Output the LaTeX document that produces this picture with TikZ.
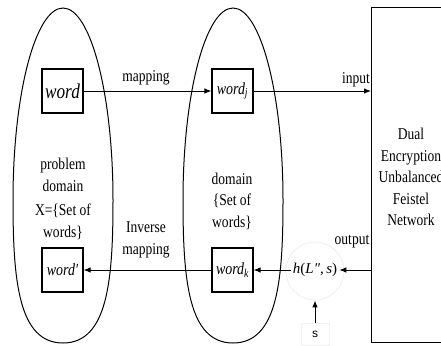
\documentclass[tikz,border=0pt]{standalone}
\usepackage{fontspec}
\setmainfont{Liberation Serif}[FakeStretch=0.82]
\newfontfamily\plainserif{Liberation Serif}
\setsansfont{Liberation Sans}
\usetikzlibrary{arrows.meta}

\begin{document}
\begin{tikzpicture}[x=1pt,y=-1pt,
  wordbox/.style={draw,line width=1.1pt,minimum width=41pt,minimum height=44pt,inner sep=0pt,
    font=\fontsize{17}{20}\selectfont\itshape},
  arr/.style={line width=1pt,-{Latex[length=7pt,width=5.5pt]}},
  lbl/.style={font=\fontsize{16.5}{19}\selectfont,inner sep=0pt},
  body/.style={font=\fontsize{16.5}{21.5}\selectfont,align=center,inner sep=0pt},
  domainline/.style={line width=1pt}]
\useasboundingbox (0,0) rectangle (441,345);
\clip (0,0) rectangle (441,345);

% the two egg-shaped domains
\foreach \dx in {0,170} {
  \draw[domainline,shift={(\dx,0)}]
    (63,8) .. controls (90.5,8) and (113,94) .. (113,200)
           .. controls (113,279) and (108,343) .. (63,343)
           .. controls (18,343) and (13,279) .. (13,200)
           .. controls (13,94) and (35.5,8) .. (63,8) -- cycle;
}

% encryption network block (runs past the right edge)
\node[draw,line width=1pt,anchor=north west,minimum width=110pt,minimum height=335pt,inner sep=0pt]
  (net) at (371,7) {};
\node[body] (fn) at (411,177) {Dual\\Encryption\\Unbalanced\\Feistel\\Network};

% words
\node[wordbox,font=\fontsize{21}{24}\selectfont\itshape] (w) at (62.5,91) {word};
\node[wordbox] (wj) at (232.5,91) {word\textsubscript{j}};
\node[wordbox] (wp) at (62.5,270) {word′};
\node[wordbox] (wk) at (232.5,270) {word\textsubscript{k}};

% domain descriptions
\node[body] (pd) at (63,175) {problem\\domain};
\node[body] (xs) at (63,222) {X=\{Set of\\words\}};
\node[body] (dm) at (232,201) {domain\\\{Set of\\words\}};

% hash stage
\node[circle,draw=gray!13,line width=0.8pt,minimum size=58pt] (hc) at (315,271) {};
\node[inner sep=2pt,font=\plainserif\fontsize{15}{17}\selectfont] (h) at (315,270)
  {\textit{h}(\textit{L″},\,\textit{s})};
\node[draw=gray!10,minimum width=28pt,minimum height=22pt,inner sep=0pt,
  font=\sffamily\fontsize{12}{14}\selectfont] (s) at (315,334) {s};

% connectors
\draw[arr] (w) -- (wj);
\draw[arr] (wj) -- (wj -| net.west);
\draw[arr] (h -| net.west) -- (h);
\draw[arr] (h) -- (wk);
\draw[arr] (wk) -- (wp);
\draw[arr] (s) -- (hc.south);

% connector labels
\node[lbl] (lmap) at (146,78) {mapping};
\node[lbl] (lin) at (356,80) {input};
\node[lbl] (lout) at (352,242) {output};
\node[body] (linv) at (146,240) {Inverse\\mapping};
\end{tikzpicture}
\end{document}
